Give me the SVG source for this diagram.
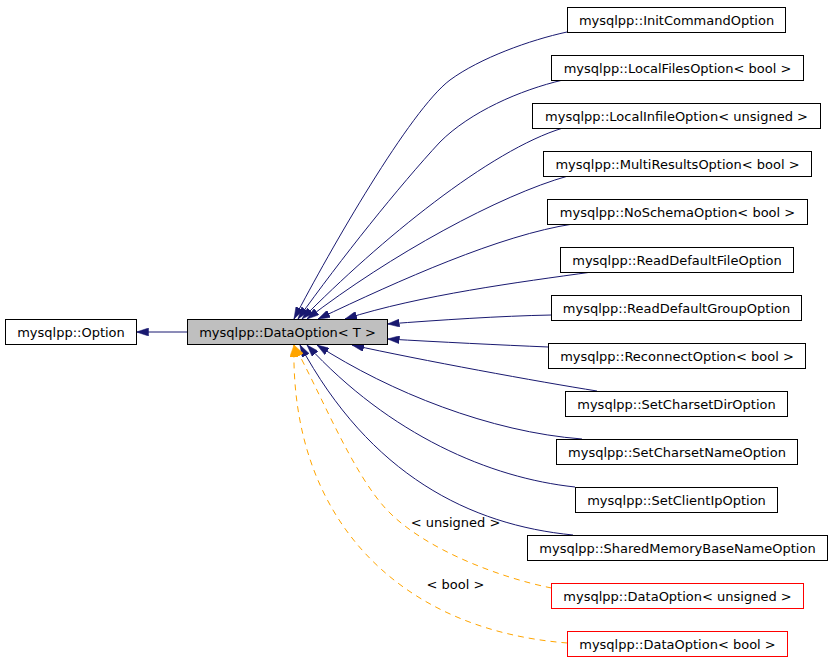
<svg xmlns="http://www.w3.org/2000/svg" width="832" height="672" viewBox="0 0 832 672">
<style>
.n rect{fill:#ffffff;stroke:#000000;stroke-width:1}
.n.cur rect{fill:#bfbfbf}
.n.red rect{stroke:#ff0000}
text{font-family:"DejaVu Sans","Liberation Sans",sans-serif;font-size:13px;fill:#000000;text-anchor:middle}
.e{fill:none;stroke:#191970;stroke-width:1;marker-end:url(#a)}
.t{fill:none;stroke:#ffa500;stroke-width:1;stroke-dasharray:6,5;marker-end:url(#o)}
</style>
<defs>
<marker id="a" markerUnits="userSpaceOnUse" markerWidth="12" markerHeight="8" refX="12" refY="4" orient="auto"><path d="M0,0 L12,4 L0,8 Z" fill="#191970" stroke="#191970" stroke-width="0.5"/></marker>
<marker id="o" markerUnits="userSpaceOnUse" markerWidth="12" markerHeight="8" refX="12" refY="4" orient="auto"><path d="M0,0 L12,4 L0,8 Z" fill="#ffa500" stroke="#ffa500" stroke-width="0.5"/></marker>
</defs>
<rect width="832" height="672" fill="#ffffff"/>
<g id="connectors">
<path class="e" d="M187.5,332 L136.5,332"/>
<path class="e" d="M567,32 C530,40 480,58 450,80 C410,110 330,250 294,319"/>
<path class="e" d="M563,80 C520,90 470,112 440,142 C400,185 340,260 298,319"/>
<path class="e" d="M563,128 C490,150 380,240 302,319"/>
<path class="e" d="M568,176 C500,195 390,255 307,319"/>
<path class="e" d="M573,224 C500,235 400,280 318,319"/>
<path class="e" d="M592,272 C520,282 420,295 345,319"/>
<path class="e" d="M551.5,315 C500,316 440,320 387.5,324"/>
<path class="e" d="M548.5,347 C500,345 440,342 387.5,339"/>
<path class="e" d="M597,391 C540,382 420,360 352,345"/>
<path class="e" d="M582,439 C490,432 390,392 317,345"/>
<path class="e" d="M575,487 C490,478 390,435 307,345"/>
<path class="e" d="M573,535 C470,525 370,475 300,345"/>
<path class="t" d="M551.5,588 C501.5,578 425,550 387,510 C352.5,473.5 321.5,395 294,345"/>
<path class="t" d="M567.5,643 C400,630 290,520 294,345"/>
<text x="455.5" y="527">&lt; unsigned &gt;</text>
<text x="455.5" y="589">&lt; bool &gt;</text>
</g>
<g id="n_option" class="n"><rect x="5.5" y="319.5" width="131" height="25"/><text x="71" y="336.5">mysqlpp::Option</text></g>
<g id="n_dataoption_t" class="n cur"><rect x="187.5" y="319.5" width="200" height="25"/><text x="287.5" y="336.5">mysqlpp::DataOption&lt; T &gt;</text></g>
<g id="n_initcommand" class="n"><rect x="567.5" y="7.5" width="218" height="25"/><text x="676.5" y="24.5">mysqlpp::InitCommandOption</text></g>
<g id="n_localfiles" class="n"><rect x="551.5" y="55.5" width="252" height="25"/><text x="677.5" y="72.5">mysqlpp::LocalFilesOption&lt; bool &gt;</text></g>
<g id="n_localinfile" class="n"><rect x="532.5" y="103.5" width="288" height="25"/><text x="676.5" y="120.5">mysqlpp::LocalInfileOption&lt; unsigned &gt;</text></g>
<g id="n_multiresults" class="n"><rect x="543.5" y="151.5" width="268" height="25"/><text x="677.5" y="168.5">mysqlpp::MultiResultsOption&lt; bool &gt;</text></g>
<g id="n_noschema" class="n"><rect x="547.5" y="199.5" width="260" height="25"/><text x="677.5" y="216.5">mysqlpp::NoSchemaOption&lt; bool &gt;</text></g>
<g id="n_readdefaultfile" class="n"><rect x="560.5" y="247.5" width="233" height="25"/><text x="677" y="264.5">mysqlpp::ReadDefaultFileOption</text></g>
<g id="n_readdefaultgroup" class="n"><rect x="551.5" y="295.5" width="250" height="25"/><text x="676.5" y="312.5">mysqlpp::ReadDefaultGroupOption</text></g>
<g id="n_reconnect" class="n"><rect x="548.5" y="343.5" width="257" height="25"/><text x="677" y="360.5">mysqlpp::ReconnectOption&lt; bool &gt;</text></g>
<g id="n_setcharsetdir" class="n"><rect x="565.5" y="391.5" width="222" height="25"/><text x="676.5" y="408.5">mysqlpp::SetCharsetDirOption</text></g>
<g id="n_setcharsetname" class="n"><rect x="556.5" y="439.5" width="241" height="25"/><text x="677" y="456.5">mysqlpp::SetCharsetNameOption</text></g>
<g id="n_setclientip" class="n"><rect x="575.5" y="487.5" width="202" height="25"/><text x="676.5" y="504.5">mysqlpp::SetClientIpOption</text></g>
<g id="n_sharedmemory" class="n"><rect x="527.5" y="535.5" width="300" height="25"/><text x="677.5" y="552.5">mysqlpp::SharedMemoryBaseNameOption</text></g>
<g id="n_dataoption_unsigned" class="n red"><rect x="551.5" y="583.5" width="252" height="25"/><text x="677.5" y="600.5">mysqlpp::DataOption&lt; unsigned &gt;</text></g>
<g id="n_dataoption_bool" class="n red"><rect x="567.5" y="631.5" width="220" height="25"/><text x="677.5" y="648.5">mysqlpp::DataOption&lt; bool &gt;</text></g>
</svg>
